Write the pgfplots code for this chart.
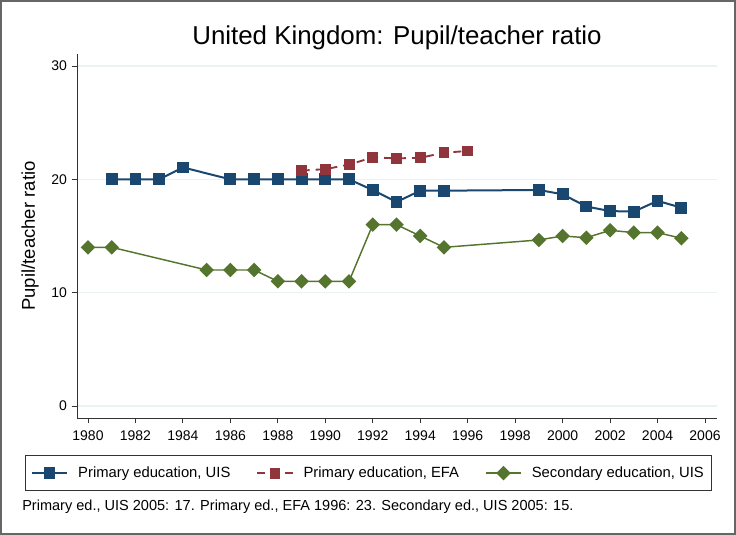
\documentclass[border=0pt]{standalone}
\usepackage{pgfplots}
\pgfplotsset{compat=1.18}
\usepackage{fontspec}
\setmainfont{Liberation Sans}
\definecolor{sblue}{HTML}{1A476F}
\definecolor{sred}{HTML}{90353B}
\definecolor{sgreen}{HTML}{55752F}
\definecolor{sgrid}{HTML}{EAF2F3}
\begin{document}
\begin{tikzpicture}
\path[use as bounding box] (0,0) rectangle (552pt,401.25pt);
\draw[color=black!60, line width=1.1pt] (0.6pt,0.6pt) rectangle (551.2pt,400.4pt);
\begin{axis}[
  at={(57.75pt,87.75pt)}, anchor=south west,
  scale only axis, width=480pt, height=273pt,
  xmin=1979.537, xmax=2006.505, ymin=-1.06, ymax=31.06,
  axis x line*=bottom, axis y line*=left,
  axis line style={line width=0.7pt, black!80},
  xtick={1980,1982,...,2006}, ytick={0,10,20,30},
  tick align=outside, tick pos=left,
  major tick length=4pt,
  tick style={line width=0.7pt, black!80},
  ymajorgrids, grid style={sgrid, line width=1.1pt},
  /pgf/number format/assume math mode=true,
  /pgf/number format/1000 sep={},
  ticklabel style={font=\fontsize{10.5}{12}\selectfont},
  xticklabel style={yshift=-2pt},
  ylabel={Pupil/teacher ratio},
  ylabel style={at={(axis description cs:-0.0734,0.5)}, anchor=center, font=\fontsize{13.9}{16}\selectfont},
  legend columns=3,
  legend style={at={(axis description cs:-0.081,-0.1017)}, anchor=north west,
    draw=black!80, line width=0.6pt, font=\fontsize{11.1}{13}\selectfont,
    inner xsep=4pt, inner ysep=6.5pt,
    /tikz/every odd column/.append style={column sep=5.5pt},
    /tikz/every even column/.append style={column sep=17.5pt}},
  legend image code/.code={\draw[mark repeat=2,mark phase=2,#1] plot coordinates {(0pt,0pt) (13.25pt,0pt) (26.5pt,0pt)};},
]
\addplot[sblue, line width=1.5pt, mark=square*, mark size=3.7pt, mark options={solid, fill=sblue, draw=sblue}] coordinates {
(1981,20) (1982,20) (1983,20) (1984,21.05) (1986,20) (1987,20) (1988,20) (1989,20) (1990,20) (1991,20)
(1992,19.05) (1993,18.0) (1994,19.0) (1995,19.0) (1999,19.06) (2000,18.68) (2001,17.6) (2002,17.2) (2003,17.15) (2004,18.1) (2005,17.5)
};
\addlegendentry{Primary education, UIS}
\addplot[sred, line width=1.4pt, dash pattern=on 6pt off 4.5pt, mark=square*, mark size=3.4pt, mark options={solid, fill=sred, draw=sred}] coordinates {
(1989,20.77) (1990,20.9) (1991,21.3) (1992,21.94) (1993,21.85) (1994,21.9) (1995,22.35) (1996,22.5)
};
\addlegendentry{Primary education, EFA}
\addplot[sgreen, line width=1.1pt, mark=square*, mark size=3.3pt, mark options={solid, rotate=45, fill=sgreen, draw=sgreen}] coordinates {
(1980,14) (1981,14) (1985,12) (1986,12) (1987,12) (1988,11) (1989,11) (1990,11) (1991,11)
(1992,16) (1993,16) (1994,15) (1995,14) (1999,14.65) (2000,15.0) (2001,14.85) (2002,15.5) (2003,15.3) (2004,15.3) (2005,14.8)
};
\addlegendentry{Secondary education, UIS}
\end{axis}
\node[font=\fontsize{19.4}{22}\selectfont] at (297.75pt,372.75pt) {United Kingdom: Pupil/teacher ratio};
\node[anchor=west, inner sep=0pt, font=\fontsize{10.9}{13}\selectfont] at (16.5pt,21pt) {Primary ed., UIS 2005: 17. Primary ed., EFA 1996: 23. Secondary ed., UIS 2005: 15.};
\end{tikzpicture}
\end{document}
